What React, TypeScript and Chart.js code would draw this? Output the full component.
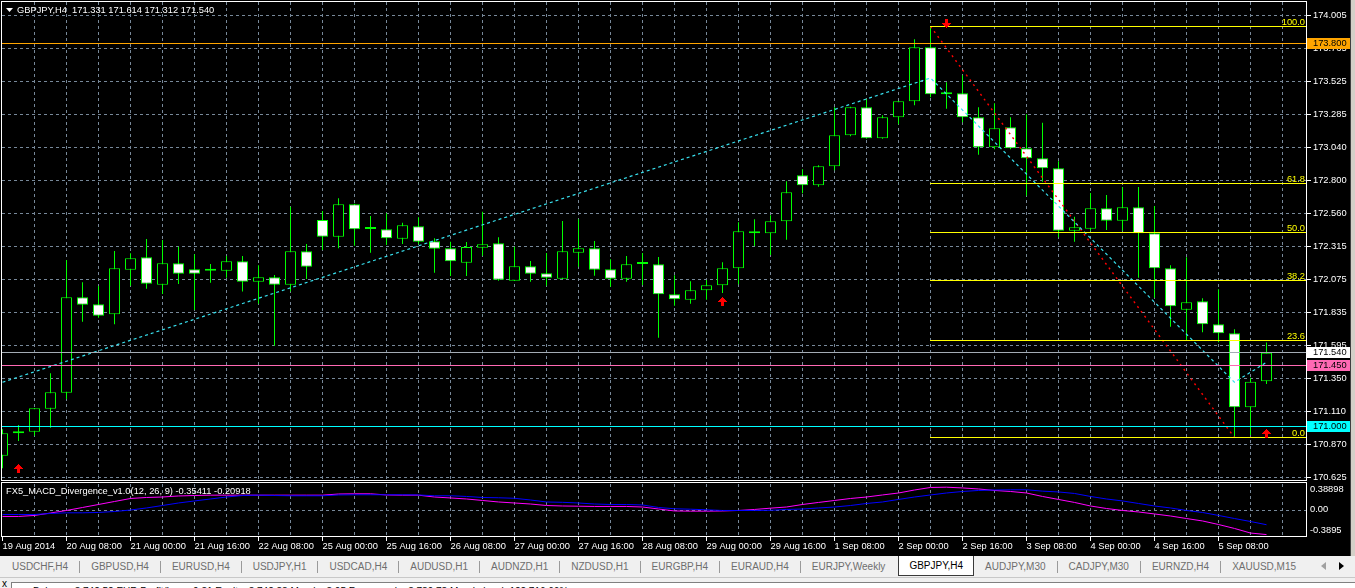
import React, { useEffect, useRef } from 'react';
import { Chart, registerables } from 'chart.js';

Chart.register(...registerables);

// ---------------- data ----------------
const symbolTitle = 'GBPJPY,H4';
const lastQuote = ['171.331', '171.614', '171.312', '171.540'];
const indicatorTitle = 'FX5_MACD_Divergence_v1.0(12, 26, 9)';
const indicatorValues = ['-0.35411', '-0.20918'];

const timeLabels = [
  '19 Aug 2014', '20 Aug 08:00', '21 Aug 00:00', '21 Aug 16:00', '22 Aug 08:00',
  '25 Aug 00:00', '25 Aug 16:00', '26 Aug 08:00', '27 Aug 00:00', '27 Aug 16:00',
  '28 Aug 08:00', '29 Aug 00:00', '29 Aug 16:00', '1 Sep 08:00', '2 Sep 00:00',
  '2 Sep 16:00', '3 Sep 08:00', '4 Sep 00:00', '4 Sep 16:00', '5 Sep 08:00',
];
const barsPerLabel = 4;

const opens = [
  170.787, 170.950, 170.962, 171.130, 171.248, 171.945, 171.894, 171.821, 172.147, 172.238,
  172.038, 172.194, 172.150, 172.145, 172.140, 172.209, 172.060, 172.092, 172.038, 172.282,
  172.511, 172.389, 172.626, 172.447, 172.443, 172.374, 172.465, 172.355, 172.304, 172.199,
  172.308, 172.341, 172.067, 172.172, 172.121, 172.082, 172.272, 172.304, 172.150, 172.082,
  172.191, 172.187, 171.967, 171.928, 171.997, 172.033, 172.158, 172.428, 172.414, 172.501,
  172.838, 172.765, 172.904, 173.131, 173.336, 173.109, 173.262, 173.379, 173.774, 173.431,
  173.438, 173.262, 173.043, 173.189, 173.036, 172.962, 172.889, 172.433, 172.447, 172.597,
  172.506, 172.604, 172.414, 172.158, 171.855, 171.916, 171.748, 171.682, 171.141, 171.331,
];
const highs = [
  170.980, 171.011, 171.135, 171.389, 172.218, 172.055, 172.028, 172.284, 172.267, 172.372,
  172.365, 172.316, 172.260, 172.189, 172.248, 172.248, 172.180, 172.109, 172.608, 172.335,
  172.577, 172.670, 172.630, 172.540, 172.560, 172.491, 172.531, 172.377, 172.352, 172.350,
  172.572, 172.384, 172.316, 172.211, 172.270, 172.504, 172.516, 172.357, 172.224, 172.248,
  172.270, 172.240, 172.106, 172.062, 172.072, 172.202, 172.494, 172.516, 172.545, 172.794,
  172.882, 172.911, 173.336, 173.340, 173.394, 173.277, 173.382, 173.833, 173.927, 173.518,
  173.570, 173.336, 173.365, 173.262, 173.284, 173.223, 172.940, 172.535, 172.709, 172.694,
  172.752, 172.752, 172.613, 172.180, 172.238, 171.938, 172.004, 171.711, 171.357, 171.614,
];
const lows = [
  170.694, 170.894, 170.933, 170.991, 171.201, 171.767, 171.796, 171.748, 172.030, 172.008,
  171.970, 172.043, 171.852, 172.052, 172.089, 171.987, 171.899, 171.591, 171.987, 172.079,
  172.291, 172.304, 172.323, 172.272, 172.328, 172.335, 172.335, 172.125, 172.101, 172.101,
  172.250, 172.067, 172.065, 172.060, 172.030, 172.080, 172.169, 172.104, 172.023, 172.060,
  172.035, 171.650, 171.884, 171.899, 171.928, 171.977, 172.041, 172.321, 172.255, 172.367,
  172.706, 172.755, 172.875, 173.123, 173.105, 173.105, 173.211, 173.350, 173.409, 173.325,
  173.226, 172.989, 173.028, 173.028, 172.689, 172.791, 172.384, 172.352, 172.433, 172.438,
  172.433, 172.089, 171.943, 171.730, 171.628, 171.689, 171.616, 170.919, 170.938, 171.312,
];
const closes = [
  170.950, 170.965, 171.133, 171.250, 171.945, 171.891, 171.811, 172.158, 172.231, 172.045,
  172.194, 172.118, 172.118, 172.140, 172.209, 172.060, 172.092, 172.038, 172.282, 172.169,
  172.389, 172.626, 172.443, 172.445, 172.377, 172.472, 172.352, 172.301, 172.209, 172.313,
  172.333, 172.074, 172.172, 172.118, 172.089, 172.282, 172.304, 172.147, 172.082, 172.187,
  172.189, 171.967, 171.931, 171.997, 172.033, 172.158, 172.428, 172.414, 172.501, 172.714,
  172.765, 172.904, 173.131, 173.336, 173.109, 173.262, 173.379, 173.774, 173.431, 173.438,
  173.262, 173.043, 173.182, 173.036, 172.962, 172.889, 172.433, 172.458, 172.597, 172.506,
  172.604, 172.414, 172.158, 171.880, 171.909, 171.748, 171.682, 171.141, 171.328, 171.540,
];

const macdMain = [
  -0.088, -0.088, -0.073, -0.037, 0.000, 0.044, 0.088, 0.132, 0.176, 0.191,
  0.198, 0.213, 0.220, 0.225, 0.225, 0.225, 0.225, 0.225, 0.225, 0.225,
  0.225, 0.242, 0.245, 0.245, 0.228, 0.225, 0.225, 0.198, 0.184, 0.169,
  0.147, 0.125, 0.110, 0.095, 0.073, 0.066, 0.063, 0.059, 0.059, 0.059,
  0.051, 0.022, -0.007, -0.010, -0.010, -0.007, 0.000, 0.015, 0.034, 0.051,
  0.088, 0.118, 0.147, 0.176, 0.198, 0.228, 0.257, 0.301, 0.338, 0.342,
  0.331, 0.316, 0.294, 0.279, 0.257, 0.206, 0.162, 0.118, 0.066, 0.029,
  0.000, -0.022, -0.051, -0.081, -0.118, -0.154, -0.206, -0.264, -0.331, -0.35411,
];
const macdSignal = [
  -0.059, -0.059, -0.059, -0.044, -0.034, -0.034, -0.029, -0.015, 0.007, 0.037,
  0.073, 0.110, 0.140, 0.169, 0.198, 0.220, 0.225, 0.220, 0.216, 0.216,
  0.216, 0.228, 0.231, 0.231, 0.231, 0.231, 0.228, 0.216, 0.216, 0.206,
  0.191, 0.187, 0.179, 0.154, 0.125, 0.120, 0.110, 0.095, 0.088, 0.088,
  0.081, 0.044, 0.025, 0.019, 0.010, 0.000, 0.000, 0.000, 0.003, 0.015,
  0.022, 0.037, 0.051, 0.073, 0.103, 0.125, 0.162, 0.198, 0.228, 0.257,
  0.279, 0.294, 0.301, 0.304, 0.304, 0.284, 0.272, 0.250, 0.206, 0.169,
  0.140, 0.103, 0.066, 0.037, 0.000, -0.029, -0.073, -0.118, -0.162, -0.20918,
];

const priceTicks = [
  174.005, 173.765, 173.525, 173.285, 173.040, 172.800, 172.560, 172.315,
  172.075, 171.835, 171.595, 171.350, 171.110, 170.870, 170.625,
];
const macdTicks = [0.38898, 0.0, -0.3895];
const macdTickLabels = ['0.38898', '0.00', '-0.3895'];

// horizontal price levels (orange line, bid, pink line, cyan line)
const levelPrices = [173.800, 171.540, 171.450, 171.000];

// fibonacci retracement
const fibStartBar = 58;
const fibEndBar = 77;
const fibHigh = 173.927;
const fibLow = 170.919;
const fibRatios = [100, 61.8, 50, 38.2, 23.6, 0];

// divergence trend lines
const trendBars = [0, 58, 77, 79];
const trendPrices = [171.324, 173.550, 171.324, 171.470];

// arrows
const upArrowBars = [1, 45, 79];
const upArrowPrices = [170.693, 171.922, 170.956];
const downArrowBars = [59];
const downArrowPrices = [173.949];

const tabs = [
  'USDCHF,H4', 'GBPUSD,H4', 'EURUSD,H4', 'USDJPY,H1', 'USDCAD,H4', 'AUDUSD,H1',
  'AUDNZD,H1', 'NZDUSD,H1', 'EURGBP,H4', 'EURAUD,H4', 'EURJPY,Weekly', 'GBPJPY,H4',
  'AUDJPY,M30', 'CADJPY,M30', 'EURNZD,H4', 'XAUUSD,M15',
];
const activeTab = 'GBPJPY,H4';
const statusText =
  'Balance: 3 742.52 EUR   Profit/Loss: 0.31   Equity: 3 742.83   Margin: 3.05   Free margin: 3 739.78   Margin level: 122 716.66%';

// ---------------- styles ----------------
const FONT = "'Liberation Sans', Arial, sans-serif";
const GRID = '#778899';
const LIME = '#00ff00';
const levelColors = ['#ffa500', '#a4acb4', '#ff69b4', '#00ffff'];
const levelBoxColors = ['#ffa500', '#ffffff', '#ff69b4', '#00ffff'];
const X_MIN = -0.03125;
const X_MAX = 81.46875;
const Y_MIN = 170.6088;
const Y_MAX = 174.1059;

const idx = opens.map((_, i) => i);
const gridBars: number[] = [];
for (let b = 0; b <= 80; b += 2) gridBars.push(b);

function drawArrow(ctx: CanvasRenderingContext2D, cx: number, cy: number, up: boolean) {
  const widths = [1, 3, 5, 7, 9, 3, 3, 3, 3];
  const x0 = Math.floor(cx);
  const top = Math.round(cy) - 4;
  ctx.fillStyle = '#ff0000';
  widths.forEach((w, r) => {
    const row = up ? r : 8 - r;
    ctx.fillRect(x0 - (w - 1) / 2, top + row, w, 1);
  });
}

const mainPlugin = {
  id: 'mt4main',
  afterDatasetsDraw(chart: any) {
    const { ctx, chartArea: a, scales } = chart;
    const x = scales.x;
    const y = scales.y;
    ctx.save();
    ctx.beginPath();
    ctx.rect(a.left, a.top, a.right - a.left, a.bottom - a.top);
    ctx.clip();
    ctx.lineWidth = 1;
    ctx.setLineDash([]);
    levelPrices.forEach((p, i) => {
      const py = Math.floor(y.getPixelForValue(p)) + 0.5;
      ctx.strokeStyle = levelColors[i];
      ctx.beginPath();
      ctx.moveTo(a.left, py);
      ctx.lineTo(a.right, py);
      ctx.stroke();
    });
    const fx = Math.floor(x.getPixelForValue(fibStartBar));
    ctx.font = `9.3px ${FONT}`;
    ctx.textAlign = 'right';
    ctx.textBaseline = 'alphabetic';
    fibRatios.forEach((r) => {
      const p = fibLow + ((fibHigh - fibLow) * r) / 100;
      const py = Math.floor(y.getPixelForValue(p)) + 0.5;
      ctx.strokeStyle = '#ffff00';
      ctx.beginPath();
      ctx.moveTo(fx, py);
      ctx.lineTo(a.right, py);
      ctx.stroke();
      ctx.fillStyle = '#ffff00';
      ctx.fillText(r.toFixed(1), a.right - 1, py - 2);
    });
    upArrowBars.forEach((b, i) => drawArrow(ctx, x.getPixelForValue(b), y.getPixelForValue(upArrowPrices[i]), true));
    downArrowBars.forEach((b, i) => drawArrow(ctx, x.getPixelForValue(b), y.getPixelForValue(downArrowPrices[i]), false));
    ctx.restore();
  },
  afterDraw(chart: any) {
    const { ctx, chartArea: a, scales } = chart;
    const y = scales.y;
    ctx.save();
    ctx.setLineDash([]);
    // price boxes on the axis
    ctx.font = `9.3px ${FONT}`;
    ctx.textAlign = 'left';
    ctx.textBaseline = 'middle';
    levelPrices.forEach((p, i) => {
      const py = Math.floor(y.getPixelForValue(p));
      ctx.fillStyle = levelBoxColors[i];
      ctx.fillRect(a.right + 1, py - 5, 43, 11);
      ctx.fillStyle = '#000';
      ctx.fillText(p.toFixed(3), a.right + 7, py + 0.5);
    });
    // panel border
    ctx.strokeStyle = '#ffffff';
    ctx.lineWidth = 1;
    ctx.strokeRect(a.left - 0.5, a.top - 0.5, a.right - a.left + 1, a.bottom - a.top + 1);
    // header
    ctx.fillStyle = '#ffffff';
    ctx.beginPath();
    ctx.moveTo(6, 8);
    ctx.lineTo(13, 8);
    ctx.lineTo(9.5, 12);
    ctx.closePath();
    ctx.fill();
    ctx.fillText(`${symbolTitle}  ${lastQuote.join(' ')}`, 17, 10);
    ctx.restore();
  },
};

const macdPlugin = {
  id: 'mt4macd',
  afterDraw(chart: any) {
    const { ctx, chartArea: a, scales } = chart;
    const y = scales.y;
    ctx.save();
    ctx.setLineDash([]);
    ctx.strokeStyle = '#ffffff';
    ctx.lineWidth = 1;
    ctx.strokeRect(a.left - 0.5, 1.5, a.right - a.left + 1, 54);
    ctx.fillStyle = '#ffffff';
    ctx.font = `9.3px ${FONT}`;
    ctx.textAlign = 'left';
    ctx.textBaseline = 'middle';
    ctx.fillText(`${indicatorTitle} ${indicatorValues.join(' ')}`, 6, 10.7);
    macdTicks.forEach((v, i) => {
      const py = y.getPixelForValue(v);
      const yy = i === 0 ? py + 5.3 : i === macdTicks.length - 1 ? py - 6.3 : py - 1.2;
      ctx.fillText(macdTickLabels[i], a.right + 4, yy);
    });
    ctx.restore();
  },
};

function labelForBar(v: number) {
  if (v % barsPerLabel !== 0) return '';
  const k = v / barsPerLabel;
  return timeLabels[k] ?? '';
}

function zeroPad(s: any) {
  s.paddingTop = 0;
  s.paddingBottom = 0;
  s.paddingLeft = 0;
  s.paddingRight = 0;
}

export default function App() {
  const mainRef = useRef<HTMLCanvasElement>(null);
  const macdRef = useRef<HTMLCanvasElement>(null);

  useEffect(() => {
    const main = new Chart(mainRef.current as HTMLCanvasElement, {
      type: 'bar',
      data: {
        datasets: [
          {
            type: 'line',
            data: trendBars.map((b, i) => ({ x: b, y: trendPrices[i] })),
            borderColor: '#38e0ee',
            borderWidth: 1.2,
            borderDash: [3, 3],
            pointRadius: 0,
            tension: 0,
            order: 0,
          } as any,
          {
            type: 'line',
            data: [
              { x: fibStartBar, y: fibHigh },
              { x: fibEndBar, y: fibLow },
            ],
            borderColor: '#ff0000',
            borderWidth: 1.4,
            borderDash: [2, 4],
            pointRadius: 0,
            tension: 0,
            order: 0,
          } as any,
          {
            type: 'bar',
            data: idx.map((i) => ({ x: i, y: [opens[i], closes[i]] })),
            backgroundColor: idx.map((i) => (closes[i] >= opens[i] ? '#000000' : '#ffffff')),
            borderColor: LIME,
            borderWidth: 1,
            borderSkipped: false,
            barThickness: 11,
            grouped: false,
            minBarLength: 2,
            inflateAmount: 0,
            order: 1,
          } as any,
          {
            type: 'bar',
            data: idx.map((i) => ({ x: i, y: [lows[i], highs[i]] })),
            backgroundColor: LIME,
            borderWidth: 0,
            barThickness: 1,
            grouped: false,
            inflateAmount: 0,
            order: 2,
          } as any,
        ],
      },
      options: {
        animation: false,
        responsive: false,
        devicePixelRatio: 1,
        events: [],
        layout: { autoPadding: false, padding: { left: 2, top: 2, right: 0, bottom: 2 } },
        plugins: { legend: { display: false }, tooltip: { enabled: false } },
        scales: {
          x: {
            type: 'linear',
            min: X_MIN,
            max: X_MAX,
            offset: false,
            grid: {
              offset: false,
              color: (c: any) => (c.tick && c.tick.value > 0 ? GRID : 'rgba(0,0,0,0)'),
              drawTicks: false,
            },
            border: { display: false, dash: [3, 3] },
            ticks: { display: false },
            afterBuildTicks: (s: any) => {
              s.ticks = gridBars.map((v) => ({ value: v }));
            },
            afterFit: (s: any) => {
              s.height = 0;
              zeroPad(s);
            },
          },
          y: {
            position: 'right',
            min: Y_MIN,
            max: Y_MAX,
            grid: { color: GRID, tickColor: '#ffffff', tickLength: 5, drawTicks: true },
            border: { display: false, dash: [3, 3] },
            ticks: {
              color: '#ffffff',
              font: { family: FONT, size: 9.3 },
              padding: 2,
              autoSkip: false,
              callback: (v: any) => Number(v).toFixed(3),
            },
            afterBuildTicks: (s: any) => {
              s.ticks = priceTicks.map((v) => ({ value: v }));
            },
            afterFit: (s: any) => {
              s.width = 49;
              zeroPad(s);
            },
          },
        },
      } as any,
      plugins: [mainPlugin],
    });

    const macd = new Chart(macdRef.current as HTMLCanvasElement, {
      type: 'line',
      data: {
        datasets: [
          {
            data: idx.map((i) => ({ x: i, y: macdSignal[i] })),
            borderColor: '#0000ff',
            borderWidth: 1,
            pointRadius: 0,
            tension: 0,
            order: 0,
          },
          {
            data: idx.map((i) => ({ x: i, y: macdMain[i] })),
            borderColor: '#ff00ff',
            borderWidth: 1,
            pointRadius: 0,
            tension: 0,
            order: 1,
          },
        ],
      },
      options: {
        animation: false,
        responsive: false,
        devicePixelRatio: 1,
        events: [],
        layout: { autoPadding: false, padding: { left: 2, top: 3, right: 0, bottom: 0 } },
        plugins: { legend: { display: false }, tooltip: { enabled: false } },
        scales: {
          x: {
            type: 'linear',
            min: X_MIN,
            max: X_MAX,
            offset: false,
            grid: {
              offset: false,
              color: (c: any) => (c.tick && c.tick.value > 0 ? GRID : 'rgba(0,0,0,0)'),
              tickColor: (c: any) =>
                c.tick && c.tick.value % barsPerLabel === 0 && c.tick.value / barsPerLabel < timeLabels.length
                  ? '#ffffff'
                  : 'rgba(0,0,0,0)',
              tickLength: 4,
              drawTicks: true,
            },
            border: { display: false, dash: [3, 3] },
            ticks: {
              color: '#ffffff',
              font: { family: FONT, size: 9.3 },
              padding: 0,
              align: 'start',
              autoSkip: false,
              maxRotation: 0,
              minRotation: 0,
              callback: (v: any) => labelForBar(Number(v)),
            },
            afterBuildTicks: (s: any) => {
              s.ticks = gridBars.map((v) => ({ value: v }));
            },
            afterFit: (s: any) => {
              s.height = 19;
              zeroPad(s);
            },
          },
          y: {
            position: 'right',
            min: macdTicks[macdTicks.length - 1],
            max: macdTicks[0],
            grid: {
              color: (c: any) => (c.tick && c.tick.value === 0 ? GRID : 'rgba(0,0,0,0)'),
              drawTicks: false,
            },
            border: { display: false, dash: [3, 3] },
            ticks: { display: false },
            afterBuildTicks: (s: any) => {
              s.ticks = macdTicks.map((v) => ({ value: v }));
            },
            afterFit: (s: any) => {
              s.width = 49;
              zeroPad(s);
            },
          },
        },
      } as any,
      plugins: [macdPlugin],
    });

    return () => {
      main.destroy();
      macd.destroy();
    };
  }, []);

  const tabElems: React.ReactNode[] = [];
  tabs.forEach((t, i) => {
    const active = t === activeTab;
    if (i > 0 && !active && tabs[i - 1] !== activeTab) {
      tabElems.push(
        <div key={'s' + i} style={{ alignSelf: 'center', width: 1, height: 12, background: '#9a9a9a' }} />
      );
    }
    tabElems.push(
      <div
        key={t}
        style={{
          display: 'flex',
          alignItems: 'center',
          padding: active ? '0 10px' : '0 11px',
          marginLeft: active ? 2 : 0,
          height: active ? 20 : 21,
          boxSizing: 'border-box',
          background: active ? '#ffffff' : 'transparent',
          border: active ? '1px solid #3a3a3a' : 'none',
          borderTop: 'none',
          color: active ? '#000000' : '#6e6e6e',
        }}
      >
        {t}
      </div>
    );
  });

  return (
    <div
      style={{
        position: 'fixed',
        left: 0,
        top: 0,
        width: 1355,
        height: 588,
        background: '#000',
        overflow: 'hidden',
        fontFamily: FONT,
      }}
    >
      <canvas ref={mainRef} width={1355} height={482} style={{ position: 'absolute', left: 0, top: 0 }} />
      <canvas ref={macdRef} width={1355} height={75} style={{ position: 'absolute', left: 0, top: 481 }} />
      <div
        style={{
          position: 'absolute',
          left: 1350,
          top: 0,
          width: 5,
          height: 556,
          background: '#d4d0c8',
          borderLeft: '1px solid #404040',
          boxSizing: 'border-box',
        }}
      />
      <div
        style={{
          position: 'absolute',
          left: 0,
          top: 556,
          width: 1355,
          height: 21,
          background: '#f0f0f0',
          display: 'flex',
          alignItems: 'flex-start',
          fontSize: 10,
          whiteSpace: 'nowrap',
        }}
      >
        <div style={{ width: 1 }} />
        {tabElems}
        <div
          style={{
            position: 'absolute',
            left: 1321,
            top: 6,
            width: 0,
            height: 0,
            borderTop: '4px solid transparent',
            borderBottom: '4px solid transparent',
            borderRight: '5px solid #a0a0a0',
          }}
        />
        <div
          style={{
            position: 'absolute',
            left: 1339,
            top: 6,
            width: 0,
            height: 0,
            borderTop: '4px solid transparent',
            borderBottom: '4px solid transparent',
            borderLeft: '5px solid #000000',
          }}
        />
      </div>
      <div
        style={{
          position: 'absolute',
          left: 0,
          top: 577,
          width: 1355,
          height: 11,
          background: '#f0f0f0',
          borderTop: '1px solid #c8c8c8',
          boxSizing: 'border-box',
          overflow: 'hidden',
        }}
      >
        <div style={{ position: 'absolute', left: 2, top: 1, fontSize: 10, lineHeight: '10px', color: '#000' }}>x</div>
        <div
          style={{
            position: 'absolute',
            left: 11,
            top: 4,
            width: 1344,
            height: 10,
            background: '#ffffff',
            borderTop: '1px solid #808080',
            borderLeft: '1px solid #808080',
            overflow: 'hidden',
          }}
        >
          <div style={{ position: 'absolute', left: 21, top: 3, fontSize: 10, lineHeight: '12px', color: '#000', whiteSpace: 'nowrap' }}>
            {statusText}
          </div>
        </div>
      </div>
    </div>
  );
}
